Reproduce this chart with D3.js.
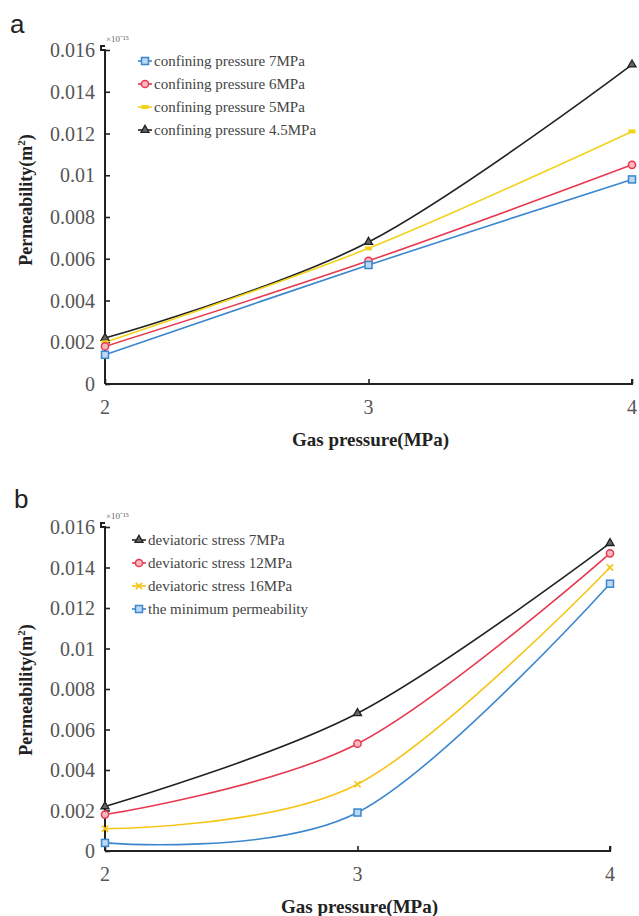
<!DOCTYPE html>
<html><head><meta charset="utf-8">
<script src="https://cdn.jsdelivr.net/npm/d3@7"></script>
<style>body{margin:0;background:#fff}</style>
</head><body>
<svg id="c" width="639" height="916"></svg>
<script>
const xValues = [2, 3, 4];
const yTicks = [0, 0.002, 0.004, 0.006, 0.008, 0.01, 0.012, 0.014, 0.016];
const yTickLabels = ["0", "0.002", "0.004", "0.006", "0.008", "0.01", "0.012", "0.014", "0.016"];

const seriesA = [
  {name: "confining pressure 7MPa", values: [0.0014, 0.0057, 0.0098], color: "#3a86cf", marker: "square"},
  {name: "confining pressure 6MPa", values: [0.0018, 0.0059, 0.0105], color: "#e8384f", marker: "circle"},
  {name: "confining pressure 5MPa", values: [0.0020, 0.0065, 0.0121], color: "#f2d21b", marker: "dash"},
  {name: "confining pressure 4.5MPa", values: [0.0022, 0.0068, 0.0153], color: "#222222", marker: "triangle"}
];
const seriesB = [
  {name: "deviatoric stress 7MPa", values: [0.0022, 0.0068, 0.0152], color: "#222222", marker: "triangle"},
  {name: "deviatoric stress 12MPa", values: [0.0018, 0.0053, 0.0147], color: "#e8384f", marker: "circle"},
  {name: "deviatoric stress 16MPa", values: [0.0011, 0.0033, 0.0140], color: "#f5c518", marker: "cross"},
  {name: "the minimum permeability", values: [0.0004, 0.0019, 0.0132], color: "#3a86cf", marker: "square"}
];

const svg = d3.select("#c");
const serif = "'Liberation Serif','Times New Roman',serif";

function drawMarker(g, type, x, y, color) {
  if (type === "square") {
    g.append("rect").attr("x", x-3.5).attr("y", y-3.5).attr("width", 7).attr("height", 7)
      .attr("fill", "#bcd8f2").attr("stroke", color).attr("stroke-width", 1.5);
  } else if (type === "circle") {
    g.append("circle").attr("cx", x).attr("cy", y).attr("r", 3.6)
      .attr("fill", "#f7b8c0").attr("stroke", color).attr("stroke-width", 1.5);
  } else if (type === "triangle") {
    g.append("path").attr("d", d3.symbol(d3.symbolTriangle, 28)()).attr("transform", `translate(${x},${y})`)
      .attr("fill", "#666").attr("stroke", color).attr("stroke-width", 1.3);
  } else if (type === "dash") {
    g.append("rect").attr("x", x-3.5).attr("y", y-2).attr("width", 7).attr("height", 4)
      .attr("fill", color);
  } else if (type === "cross") {
    g.append("path").attr("d", d3.symbol(d3.symbolX, 28)()).attr("transform", `translate(${x},${y})`)
      .attr("fill", "none").attr("stroke", color).attr("stroke-width", 1.6);
  }
}

function panel(cfg) {
  const g = svg.append("g");
  const x = d3.scaleLinear().domain([2, 4]).range([cfg.x0, cfg.x1]);
  const y = d3.scaleLinear().domain([0, 0.016]).range([cfg.y0, cfg.y1]);

  g.append("text").attr("x", cfg.letterX).attr("y", cfg.letterY)
    .attr("font-family", "'Liberation Sans',Arial,sans-serif").attr("font-size", 26).attr("fill", "#222")
    .text(cfg.letter);

  const yAxis = d3.axisRight(y).tickValues(yTicks).tickSize(5).tickFormat("");
  const ya = g.append("g").attr("transform", `translate(${cfg.x0},0)`).call(yAxis);
  ya.select(".domain").attr("stroke", "#222").attr("stroke-width", 2).attr("d", `M0,${cfg.y1-4}H-4V${cfg.y1}H0V${cfg.y0}`);
  ya.selectAll(".tick line").attr("stroke", "#222").attr("stroke-width", 1.6);
  const xAxis = d3.axisTop(x).tickValues(xValues).tickSize(5).tickFormat("");
  const xa = g.append("g").attr("transform", `translate(0,${cfg.y0})`).call(xAxis);
  xa.select(".domain").attr("stroke", "#222").attr("stroke-width", 2).attr("d", `M${cfg.x0},0H${cfg.x1}V-5`);
  xa.selectAll(".tick line").attr("stroke", "#222").attr("stroke-width", 1.6);

  g.selectAll(".yl").data(yTicks).enter().append("text")
    .attr("x", cfg.x0 - 10).attr("y", d => y(d)).attr("dy", "0.35em")
    .attr("text-anchor", "end").attr("font-family", serif).attr("font-size", 20).attr("fill", "#555")
    .text((d, i) => yTickLabels[i]);
  g.selectAll(".xl").data(xValues).enter().append("text")
    .attr("x", d => x(d)).attr("y", cfg.y0 + 30)
    .attr("text-anchor", "middle").attr("font-family", serif).attr("font-size", 20).attr("fill", "#555")
    .text(d => d);

  g.append("text").attr("x", cfg.x0 + 1).attr("y", cfg.y1 - 8)
    .attr("font-family", serif).attr("font-size", 9).attr("fill", "#666").text("×10⁻¹⁵");

  g.append("text").attr("x", (cfg.x0 + cfg.x1) / 2 + 2).attr("y", cfg.y0 + 62)
    .attr("text-anchor", "middle").attr("font-family", serif).attr("font-weight", "bold").attr("font-size", 19).attr("fill", "#222")
    .text("Gas pressure(MPa)");
  const yt = g.append("text").attr("transform", `translate(${cfg.titleX},${cfg.titleY}) rotate(-90)`)
    .attr("text-anchor", "middle").attr("font-family", serif).attr("font-weight", "bold").attr("font-size", 18).attr("fill", "#222");
  yt.append("tspan").text("Permeability(m");
  yt.append("tspan").attr("font-size", 11).attr("dy", -7).text("2");
  yt.append("tspan").attr("dy", 7).text(")");

  const line = d3.line().x((d, i) => x(xValues[i])).y(d => y(d)).curve(d3.curveCatmullRom.alpha(0));
  cfg.series.slice().reverse().forEach(s => {
    g.append("path").attr("d", line(s.values)).attr("fill", "none").attr("stroke", s.color).attr("stroke-width", 1.6);
  });
  cfg.series.slice().reverse().forEach(s => {
    s.values.forEach((v, i) => drawMarker(g, s.marker, x(xValues[i]), y(v), s.color));
  });

  cfg.series.forEach((s, i) => {
    const ly = cfg.legY + i * cfg.legStep;
    g.append("line").attr("x1", cfg.legX - 7).attr("x2", cfg.legX + 7).attr("y1", ly).attr("y2", ly)
      .attr("stroke", s.color).attr("stroke-width", 1.6);
    drawMarker(g, s.marker, cfg.legX, ly, s.color);
    g.append("text").attr("x", cfg.legX + 9).attr("y", ly).attr("dy", "0.35em")
      .attr("font-family", serif).attr("font-size", 15).attr("fill", "#444").text(s.name);
  });
}

panel({letter: "a", letterX: 10, letterY: 33, x0: 105, x1: 632, y0: 384, y1: 50,
  titleX: 32, titleY: 200, series: seriesA, legX: 145, legY: 61, legStep: 23});
panel({letter: "b", letterX: 14, letterY: 508, x0: 105, x1: 610, y0: 851, y1: 527,
  titleX: 32, titleY: 690, series: seriesB, legX: 139, legY: 540, legStep: 23});
</script>
</body></html>
